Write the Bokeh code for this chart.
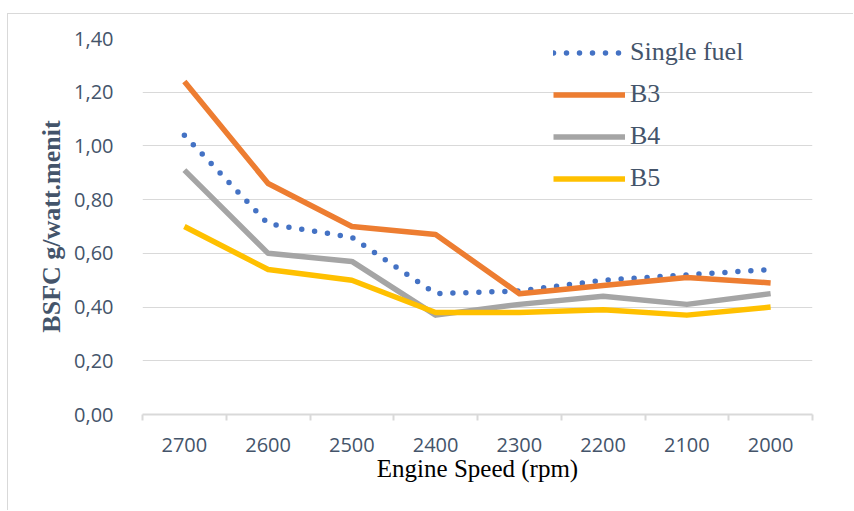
from bokeh.plotting import figure
from bokeh.models import (Range1d, FixedTicker, CustomJSTickFormatter, Legend, LegendItem,
                          ColumnDataSource)
from bokeh.embed import file_html
from bokeh.resources import INLINE

# ---- data ----
speeds = ["2700", "2600", "2500", "2400", "2300", "2200", "2100", "2000"]
single_fuel = [1.04, 0.71, 0.66, 0.45, 0.46, 0.50, 0.52, 0.54]
b3 = [1.24, 0.86, 0.70, 0.67, 0.45, 0.48, 0.51, 0.49]
b4 = [0.91, 0.60, 0.57, 0.37, 0.41, 0.44, 0.41, 0.45]
b5 = [0.70, 0.54, 0.50, 0.38, 0.38, 0.39, 0.37, 0.40]
series_names = ["Single fuel", "B3", "B4", "B5"]
y_ticks = [0.0, 0.2, 0.4, 0.6, 0.8, 1.0, 1.2, 1.4]

TICK_COLOR = "#44546A"
GRID = "#D9D9D9"

# category slot positions (centre of each category band)
pos = [i + 0.5 for i in range(len(speeds))]
edges = list(range(len(speeds) + 1))

src = ColumnDataSource(dict(x=pos, single=single_fuel, b3=b3, b4=b4, b5=b5))

p = figure(width=846, height=497,
           x_range=Range1d(0, len(speeds)),
           y_range=Range1d(0, 1.4),
           output_backend="svg", toolbar_location=None,
           min_border_left=134, min_border_right=42,
           min_border_top=24, min_border_bottom=97)
p.margin = (13, 0, 0, 7)
p.styles = {"border-left": "1px solid #D9D9D9", "border-top": "1px solid #D9D9D9"}
p.outline_line_color = None
p.background_fill_color = "white"
p.border_fill_color = "white"

# y axis
ya = p.yaxis[0]
ya.ticker = FixedTicker(ticks=y_ticks)
ya.formatter = CustomJSTickFormatter(code="return tick.toFixed(2).replace('.', ',');")
ya.axis_line_color = None
ya.major_tick_line_color = None
ya.minor_tick_line_color = None
ya.major_label_standoff = 23
ya.major_label_text_font = "Open Sans"
ya.major_label_text_font_size = "20px"
ya.major_label_text_color = TICK_COLOR
ya.axis_label = "BSFC g/watt.menit"
ya.axis_label_text_font = "Liberation Serif"
ya.axis_label_text_font_style = "bold"
ya.axis_label_text_font_size = "26px"
ya.axis_label_text_color = TICK_COLOR
ya.axis_label_standoff = 5

p.ygrid.grid_line_color = GRID
p.ygrid.grid_line_width = 1
p.ygrid.ticker = FixedTicker(ticks=y_ticks)
p.xgrid.grid_line_color = None

# x axis: labels at category centres, tick marks at category boundaries
xa = p.xaxis[0]
xa.ticker = FixedTicker(ticks=pos, minor_ticks=edges)
xa.major_label_overrides = {x: s for x, s in zip(pos, speeds)}
xa.major_tick_line_color = None
xa.major_tick_in = 0
xa.major_tick_out = 6
xa.minor_tick_in = 0
xa.minor_tick_out = 6
xa.minor_tick_line_color = GRID
xa.minor_tick_line_width = 2
xa.axis_line_color = GRID
xa.axis_line_width = 2
xa.major_label_standoff = 17
xa.major_label_text_font = "Open Sans"
xa.major_label_text_font_size = "20px"
xa.major_label_text_color = TICK_COLOR
xa.axis_label = "Engine Speed (rpm)"
xa.axis_label_text_font = "Liberation Serif"
xa.axis_label_text_font_style = "normal"
xa.axis_label_text_font_size = "25px"
xa.axis_label_text_color = "black"
xa.axis_label_standoff = 0

# lines
r_single = p.line("x", "single", source=src, color="#4472C4", line_width=5.5,
                  line_dash="0 13", line_cap="round", line_join="round")
r_b3 = p.line("x", "b3", source=src, color="#ED7D31", line_width=5.5, line_join="round")
r_b4 = p.line("x", "b4", source=src, color="#A5A5A5", line_width=5.5, line_join="round")
r_b5 = p.line("x", "b5", source=src, color="#FFC000", line_width=5.5, line_join="round")

legend = Legend(items=[LegendItem(label=n, renderers=[r]) for n, r in
                       zip(series_names, [r_single, r_b3, r_b4, r_b5])],
                location=(411, 221))
legend.background_fill_alpha = 0
legend.border_line_color = None
legend.padding = 0
legend.margin = 0
legend.spacing = 12
legend.glyph_width = 72
legend.glyph_height = 25
legend.label_height = 25
legend.label_standoff = 5
legend.label_text_font = "Liberation Serif"
legend.label_text_font_size = "26px"
legend.label_text_color = TICK_COLOR
p.add_layout(legend)

open("out.html", "w").write(file_html(p, INLINE))
